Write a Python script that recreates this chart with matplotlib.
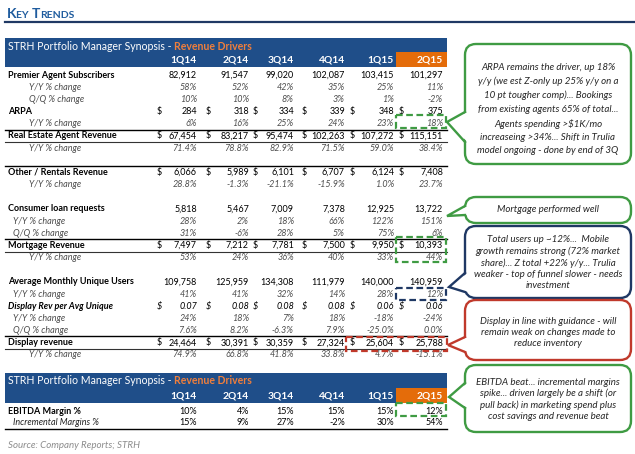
import matplotlib.pyplot as plt
from matplotlib.patches import Rectangle, FancyBboxPatch, Polygon

plt.rcParams['font.family'] = ['Lato', 'DejaVu Sans']

quarters = ['1Q14', '2Q14', '3Q14', '4Q14', '1Q15', '2Q15']

premier_subs = [82912, 91547, 99020, 102087, 103415, 101297]
premier_yy = [58, 52, 42, 35, 25, 11]
premier_qq = [10, 10, 8, 3, 1, -2]
arpa = [284, 318, 334, 339, 348, 375]
arpa_yy = [6, 16, 25, 24, 23, 18]
agent_revenue = [67454, 83217, 95474, 102263, 107272, 115151]
agent_yy = [71.4, 78.8, 82.9, 71.5, 59.0, 38.4]
other_revenue = [6066, 5989, 6101, 6707, 6124, 7408]
other_yy = [28.8, -1.3, -21.1, -15.9, 1.0, 23.7]
loan_requests = [5818, 5467, 7009, 7378, 12925, 13722]
loan_yy = [28, 2, 18, 66, 122, 151]
loan_qq = [31, -6, 28, 5, 75, 6]
mortgage_revenue = [7497, 7212, 7781, 7500, 9950, 10393]
mortgage_yy = [53, 24, 36, 40, 33, 44]
unique_users = [109758, 125959, 134308, 111979, 140000, 140959]
users_yy = [41, 41, 32, 14, 28, 12]
rev_per_unique = [0.07, 0.08, 0.08, 0.08, 0.06, 0.06]
rpu_yy = [24, 18, 7, 18, -18, -24]
rpu_qq = [7.6, 8.2, -6.3, 7.9, -25.0, 0.0]
display_revenue = [24464, 30391, 30359, 27324, 25604, 25788]
display_yy = [74.9, 66.8, 41.8, 33.8, 4.7, -15.1]
ebitda_margin = [10, 4, 15, 15, 15, 12]
incremental_margin = [15, 9, 27, -2, 30, 54]

notes = [
    "ARPA remains the driver, up 18%\ny/y (we est Z-only up 25% y/y on a\n10 pt tougher comp)... Bookings\n"
    "from existing agents 65% of total...\nAgents spending >$1K/mo\nincreaseing >34%... Shift in Trulia\n"
    "model ongoing - done by end of 3Q",
    "Mortgage performed well",
    "Total users up ~12%...  Mobile\ngrowth remains strong (72% market\nshare)... Z total +22% y/y... Trulia\n"
    "weaker - top of funnel slower - needs\ninvestment",
    "Display in line with guidance - will\nremain weak on changes made to\nreduce inventory",
    "EBITDA beat... incremental margins\nspike... driven largely be a shift (or\npull back) in marketing spend plus\n"
    "cost savings and revenue beat",
]

# (label, values, format, style, indent, row index)
rows = [
    ('Premier Agent Subscribers', premier_subs, 'int', 'head', 8, 0),
    ('Y/Y % change', premier_yy, 'pct0', 'sub', 29, 1),
    ('Q/Q % change', premier_qq, 'pct0', 'sub', 29, 2),
    ('ARPA', arpa, '$int', 'head', 8, 3),
    ('Y/Y % change', arpa_yy, 'pct0', 'sub', 29, 4),
    ('Real Estate Agent Revenue', agent_revenue, '$int', 'head', 8, 5),
    ('Y/Y % change', agent_yy, 'pct1', 'sub', 29, 6),
    ('Other / Rentals Revenue', other_revenue, '$int', 'head', 8, 8),
    ('Y/Y % change', other_yy, 'pct1', 'sub', 29, 9),
    ('Consumer loan requests', loan_requests, 'int', 'head', 8, 11),
    ('Y/Y % change', loan_yy, 'pct0', 'sub', 13, 12),
    ('Q/Q % change', loan_qq, 'pct0', 'sub', 13, 13),
    ('Mortgage Revenue', mortgage_revenue, '$int', 'head', 8, 14),
    ('Y/Y % change', mortgage_yy, 'pct0', 'sub', 29, 15),
    ('Average Monthly Unique Users', unique_users, 'int', 'head', 8, 17),
    ('Y/Y % change', users_yy, 'pct0', 'sub', 13, 18),
    ('Display Rev per Avg Unique', rev_per_unique, '$dec', 'headit', 8, 19),
    ('Y/Y % change', rpu_yy, 'pct0', 'sub', 13, 20),
    ('Q/Q % change', rpu_qq, 'pct1', 'sub', 13, 21),
    ('Display revenue', display_revenue, '$int', 'head', 8, 22),
    ('Y/Y % change', display_yy, 'pct1', 'sub', 29, 23),
]

NAVY = '#1f4e89'
ORANGE = '#e46c0a'
GRAY = '#4d4d4d'
GREEN = '#3f9b43'
DNAVY = '#1f3864'
RED = '#c0392b'
FS = 6.5

col_right = [197, 249, 294, 345, 394, 443]
dollar_x = [157, 206, 253, 302, 350, 399]


def fmt(v, kind):
    if kind.endswith('int'):
        return f'{v:,}'
    if kind.endswith('dec'):
        return f'{v:.2f}'
    if kind == 'pct0':
        return f'{v:.0f}%'
    return f'{v:.1f}%'


fig = plt.figure(figsize=(6.35, 4.54), dpi=100)
ax = fig.add_axes([0, 0, 1, 1])
ax.set_xlim(0, 635)
ax.set_ylim(454, 0)
ax.axis('off')
renderer = fig.canvas.get_renderer()


def chained(x, y, parts, **kw):
    # parts: list of (text, fontsize, color, weight)
    for s, size, color, weight in parts:
        t = ax.text(x, y, s, fontsize=size, color=color, weight=weight, va='baseline', **kw)
        bb = t.get_window_extent(renderer).transformed(ax.transData.inverted())
        x = bb.x1


# title
kc = '#1f5c9e'
chained(7, 18, [('K', 10, kc, 'bold'), ('EY ', 7.5, kc, 'bold'),
                ('T', 10, kc, 'bold'), ('RENDS', 7.5, kc, 'bold')])
ax.plot([5, 635], [22, 22], color='#1f3864', lw=1.6)


def header(y0, y1):
    ax.add_patch(Rectangle((5, y0), 442, y1 - y0, fc=NAVY, ec='none'))
    ax.add_patch(Rectangle((396, y1 - 15.5), 51, 15.5, fc=ORANGE, ec='none'))
    chained(8, y0 + 11.5, [('STRH Portfolio Manager Synopsis - ', 7.6, 'white', 'normal'),
                           ('Revenue Drivers', 7.6, '#f07f3c', 'bold')])
    for q, xr in zip(quarters, col_right):
        ax.text(xr, y1 - 4, q, fontsize=7.4, color='white', weight='bold', ha='right', va='baseline')


header(38, 67)

styles = {
    'head': (dict(weight='bold', color='black'), dict(color='black')),
    'headit': (dict(weight='bold', style='italic', color='black'), dict(style='italic', color='black')),
    'sub': (dict(style='italic', color=GRAY), dict(style='italic', color=GRAY)),
    'plain': (dict(style='italic', color='#222222'), dict(color='black')),
}

row_h = 12.17
for label, vals, kind, style, indent, idx in rows:
    y = 75 + idx * row_h
    lab_kw, val_kw = styles[style]
    ax.text(indent, y, label, fontsize=FS, va='center', **lab_kw)
    for v, xr, xd in zip(vals, col_right, dollar_x):
        ax.text(xr, y, fmt(v, kind), fontsize=FS, ha='right', va='center', **val_kw)
        if kind.startswith('$'):
            ax.text(xd, y, '$', fontsize=FS, ha='left', va='center', **val_kw)

# rules above / below the revenue rows
for idx, below in [(5, True), (8, False), (14, True), (22, True)]:
    y = 75 + idx * row_h
    ax.plot([5, 447], [y - 6.3, y - 6.3], color='black', lw=1.0)
    if below:
        ax.plot([5, 447], [y + 6.3, y + 6.3], color='#333333', lw=0.8)

# second table
header(373, 403)
for label, vals, style, indent, y in [('EBITDA Margin %', ebitda_margin, 'head', 8, 411),
                                      ('Incremental Margins %', incremental_margin, 'plain', 13, 422.5)]:
    lab_kw, val_kw = styles[style]
    ax.text(indent, y, label, fontsize=FS, va='center', **lab_kw)
    for v, xr in zip(vals, col_right):
        ax.text(xr, y, fmt(v, 'pct0'), fontsize=FS, ha='right', va='center', **val_kw)
ax.plot([5, 447], [428.5, 428.5], color='black', lw=1.0)

ax.text(8, 445, 'Source: Company Reports; STRH', fontsize=7.0, style='italic', color='#8c8c8c', va='center')

# dashed highlights
for x0, y0, x1, y1, c in [(396, 115, 446, 128, GREEN), (396, 237, 446, 261.5, GREEN),
                          (396, 288, 446, 300, DNAVY), (346, 337, 447, 351, RED),
                          (396, 403, 446, 416, GREEN)]:
    ax.add_patch(Rectangle((x0, y0), x1 - x0, y1 - y0, fill=False, ec=c, lw=1.6,
                           linestyle=(0, (3, 1.6)), zorder=4))


def callout(y0, y1, tip, b0, b1, color, text, ty, ls):
    x0, x1 = 465, 631
    ax.add_patch(FancyBboxPatch((x0, y0), x1 - x0, y1 - y0, boxstyle='round,pad=0,rounding_size=11',
                                fc='white', ec=color, lw=1.7, zorder=5))
    ax.add_patch(Polygon([(x0 + 2.5, b0), tip, (x0 + 2.5, b1)], closed=True, fc='white', ec='none', zorder=6))
    ax.plot([x0, tip[0], x0], [b0, tip[1], b1], color=color, lw=1.7, zorder=7, solid_joinstyle='miter')
    ax.text((x0 + x1) / 2, ty, text, fontsize=7.0, style='italic', color='#262626', ha='center',
            va='center', linespacing=ls, zorder=8)


callout(44, 164, (447, 122), 112, 142, GREEN, notes[0], 109, 1.62)
callout(197, 223, (447, 216), 206, 215, GREEN, notes[1], 210, 1.2)
callout(226, 298, (449, 287), 273, 292, DNAVY, notes[2], 262.5, 1.3)
callout(300, 360, (448, 345), 337, 352, RED, notes[3], 332.5, 1.3)
callout(365, 432, (449, 397), 383, 408, GREEN, notes[4], 399.5, 1.3)

fig.savefig('out.png', dpi=100)
